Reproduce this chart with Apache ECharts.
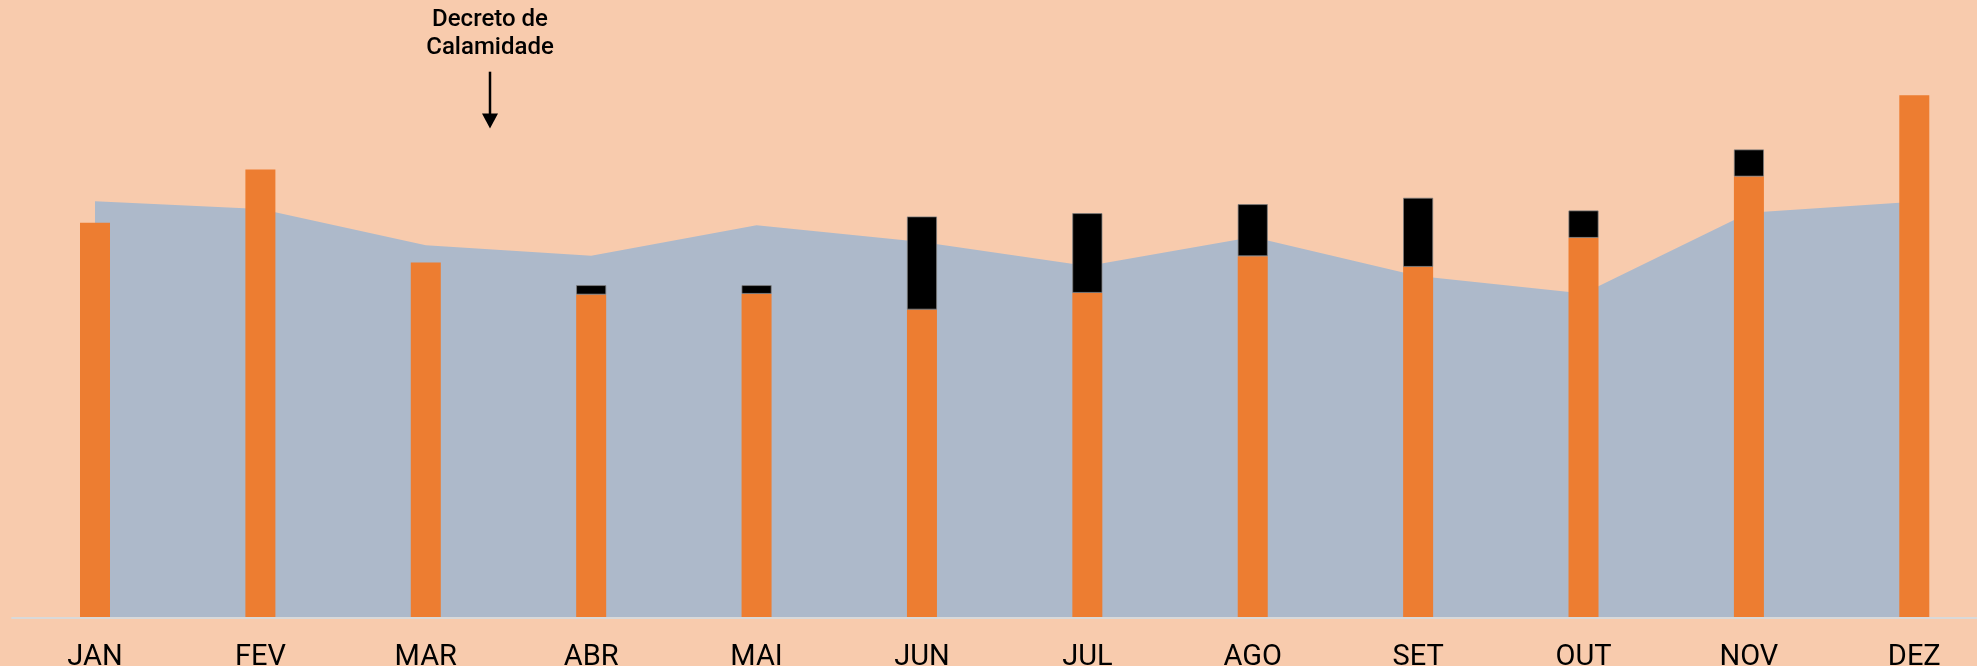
<!DOCTYPE html>
<html>
<head>
<meta charset="utf-8">
<script src="https://cdn.jsdelivr.net/npm/echarts@6/dist/echarts.min.js"></script>
<style>
  html, body { margin: 0; padding: 0; background: #F8CBAD; }
  #chart { width: 1977px; height: 666px; }
</style>
</head>
<body>
<div id="chart"></div>
<script>
// Categories (months)
const months = ['JAN', 'FEV', 'MAR', 'ABR', 'MAI', 'JUN', 'JUL', 'AGO', 'SET', 'OUT', 'NOV', 'DEZ'];
// Background area series
const areaValues = [416.3, 408.5, 372.3, 361.7, 392.3, 375.5, 351.6, 380.5, 341.5, 324.0, 404.7, 415.7];
// Orange bars (base of stack)
const orangeValues = [394.7, 448.0, 355.0, 323.0, 323.7, 308.0, 324.7, 361.3, 350.7, 379.7, 441.0, 522.3];
// Black bars (stacked on top)
const blackValues = [null, null, null, 9.3, 8.6, 93.0, 79.6, 52.0, 69.0, 27.3, 27.0, null];
// Annotation text
const annotationText = 'Decreto de\nCalamidade';

const chart = echarts.init(document.getElementById('chart'));

const option = {
  backgroundColor: '#F8CBAD',
  animation: false,
  grid: [
    { left: 95, right: 62.7, top: 17.5, bottom: 48.5, containLabel: false, outerBoundsMode: 'none' },
    { left: 12, right: 0, top: 17.5, bottom: 48.5, containLabel: false, outerBoundsMode: 'none' }
  ],
  xAxis: [
    {
      type: 'category',
      gridIndex: 0,
      data: months,
      boundaryGap: false,
      axisLine: { show: false },
      axisTick: { show: false },
      splitLine: { show: false },
      axisLabel: {
        color: '#000000',
        fontFamily: 'Roboto',
        fontSize: 29,
        margin: 26,
        interval: 0,
        hideOverlap: false
      }
    },
    {
      type: 'value',
      gridIndex: 1,
      min: 0,
      max: 1,
      z: 10,
      axisLine: { show: true, onZero: false, lineStyle: { color: '#D9D9D9', width: 2 } },
      axisTick: { show: false },
      axisLabel: { show: false },
      splitLine: { show: false }
    }
  ],
  yAxis: [
    { type: 'value', gridIndex: 0, min: 0, max: 600, show: false, splitLine: { show: false } },
    { type: 'value', gridIndex: 1, min: 0, max: 1, show: false, splitLine: { show: false } }
  ],
  series: [
    {
      name: 'Área',
      type: 'line',
      xAxisIndex: 0,
      yAxisIndex: 0,
      data: areaValues,
      showSymbol: false,
      symbol: 'none',
      lineStyle: { width: 0 },
      areaStyle: { color: '#ADB9CA', opacity: 1 },
      z: 1
    },
    {
      name: 'Laranja',
      type: 'bar',
      xAxisIndex: 0,
      yAxisIndex: 0,
      stack: 'total',
      data: orangeValues,
      barWidth: 30,
      clip: false,
      itemStyle: { color: '#ED7D31' },
      z: 3
    },
    {
      name: 'Preto',
      type: 'bar',
      xAxisIndex: 0,
      yAxisIndex: 0,
      stack: 'total',
      data: blackValues,
      barWidth: 30,
      clip: false,
      itemStyle: { color: '#000000', borderColor: '#7F7F7F', borderWidth: 0.75 },
      z: 3
    }
  ],
  graphic: [
    {
      type: 'text',
      x: 490,
      y: 6,
      style: {
        text: annotationText,
        fontFamily: 'Roboto',
        fontSize: 24,
        fontWeight: 500,
        lineHeight: 28,
        fill: '#000000',
        align: 'center',
        verticalAlign: 'top'
      }
    },
    {
      type: 'line',
      shape: { x1: 490, y1: 71.7, x2: 490, y2: 116 },
      style: { stroke: '#000000', lineWidth: 2.5 }
    },
    {
      type: 'polygon',
      shape: { points: [[482, 113.5], [498, 113.5], [490, 128.5]] },
      style: { fill: '#000000' }
    }
  ]
};

chart.setOption(option);
</script>
</body>
</html>
